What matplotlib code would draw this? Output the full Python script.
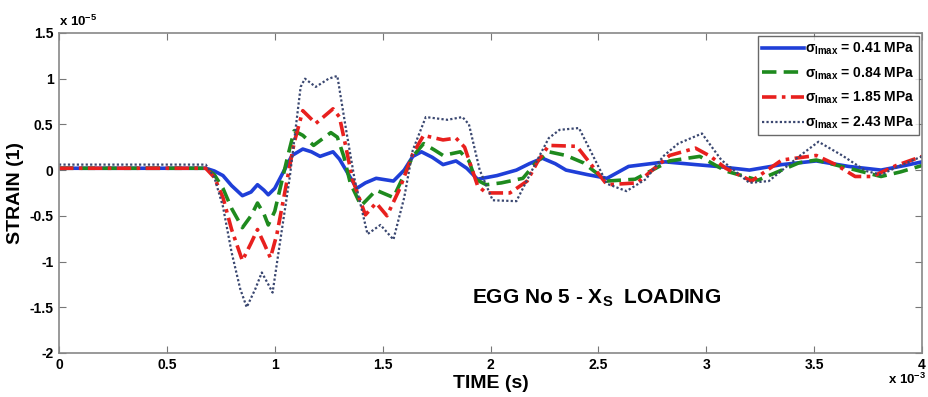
import numpy as np
import matplotlib
matplotlib.use("Agg")
import matplotlib.pyplot as plt
from matplotlib.ticker import FormatStrFormatter

plt.rcParams['font.family'] = ['Liberation Sans', 'DejaVu Sans']
plt.rcParams['font.weight'] = 'bold'
plt.rcParams['mathtext.fontset'] = 'custom'
plt.rcParams['mathtext.rm'] = 'Liberation Sans:bold'
plt.rcParams['mathtext.it'] = 'Liberation Sans:bold'

# time in ms (x 10^-3 s), strain in units of 1e-5
t_041 = [0, 0.3, 0.6, 0.68, 0.72, 0.76, 0.80, 0.85, 0.89, 0.92, 0.95, 0.97, 1.0, 1.04,
         1.08, 1.13, 1.17, 1.21, 1.27, 1.30, 1.33, 1.38, 1.42, 1.47, 1.55, 1.60, 1.64,
         1.68, 1.73, 1.78, 1.84, 1.89, 1.94, 2.03, 2.12, 2.18, 2.24, 2.30, 2.35, 2.45,
         2.54, 2.64, 2.81, 2.95, 3.05, 3.2, 3.35, 3.51, 3.66, 3.81, 3.92, 4.0]
s_041 = [0.02, 0.02, 0.02, 0.02, -0.01, -0.06, -0.17, -0.28, -0.24, -0.16, -0.22,
         -0.27, -0.2, -0.02, 0.16, 0.23, 0.2, 0.15, 0.2, 0.12, 0.0, -0.2, -0.14, -0.09,
         -0.12, 0.0, 0.15, 0.2, 0.14, 0.06, 0.1, 0.02, -0.1, -0.06, 0.0, 0.07, 0.13,
         0.07, 0.0, -0.05, -0.09, 0.04, 0.09, 0.06, 0.04, 0.0, 0.06, 0.1, 0.04, 0.0,
         0.05, 0.09]

t_084 = [0, 0.68, 0.72, 0.76, 0.80, 0.85, 0.89, 0.92, 0.95, 0.97, 1.0, 1.03, 1.06,
         1.09, 1.13, 1.18, 1.26, 1.29, 1.32, 1.35, 1.40, 1.47, 1.55, 1.59, 1.64, 1.69,
         1.74, 1.78, 1.86, 1.90, 1.93, 1.98, 2.05, 2.15, 2.21, 2.27, 2.35, 2.43, 2.54,
         2.67, 2.83, 2.97, 3.09, 3.24, 3.43, 3.51, 3.66, 3.81, 3.9, 4.0]
s_084 = [0.02, 0.02, -0.05, -0.2, -0.42, -0.63, -0.5, -0.36, -0.48, -0.6, -0.45,
         -0.15, 0.15, 0.43, 0.38, 0.27, 0.41, 0.36, 0.15, -0.14, -0.39, -0.22, -0.3,
         -0.1, 0.15, 0.29, 0.22, 0.16, 0.2, 0.1, -0.1, -0.16, -0.14, -0.09, 0.08, 0.2,
         0.16, 0.08, -0.12, -0.1, 0.1, 0.15, -0.01, -0.11, 0.08, 0.11, 0.02, -0.07,
         -0.02, 0.05]

t_185 = [0, 0.68, 0.72, 0.76, 0.80, 0.85, 0.89, 0.92, 0.95, 0.98, 1.01, 1.05, 1.09,
         1.13, 1.19, 1.27, 1.30, 1.33, 1.36, 1.42, 1.47, 1.52, 1.58, 1.64, 1.69, 1.78,
         1.84, 1.88, 1.94, 1.98, 2.09, 2.17, 2.22, 2.27, 2.40, 2.46, 2.54, 2.68, 2.75,
         2.83, 2.95, 3.02, 3.09, 3.21, 3.35, 3.51, 3.60, 3.69, 3.77, 3.88, 4.0]
s_185 = [0.02, 0.02, -0.08, -0.3, -0.65, -0.99, -0.8, -0.65, -0.8, -0.96, -0.7,
         -0.2, 0.3, 0.65, 0.51, 0.67, 0.58, 0.25, -0.1, -0.49, -0.36, -0.5, -0.2, 0.18,
         0.38, 0.33, 0.35, 0.25, -0.17, -0.25, -0.25, -0.12, 0.1, 0.27, 0.26, 0.08,
         -0.16, -0.14, 0.0, 0.16, 0.24, 0.15, 0.02, -0.12, 0.11, 0.16, 0.06, -0.07,
         -0.07, 0.05, 0.15]

t_243 = [0, 0.68, 0.72, 0.76, 0.80, 0.84, 0.87, 0.91, 0.94, 0.97, 0.99, 1.03, 1.07,
         1.12, 1.14, 1.19, 1.25, 1.29, 1.33, 1.37, 1.43, 1.49, 1.55, 1.60, 1.64, 1.70,
         1.80, 1.87, 1.90, 1.95, 2.01, 2.12, 2.21, 2.27, 2.32, 2.41, 2.47, 2.54, 2.63,
         2.72, 2.80, 2.87, 2.98, 3.07, 3.20, 3.29, 3.43, 3.52, 3.63, 3.74, 3.81, 3.9,
         4.0]
s_243 = [0.06, 0.06, -0.08, -0.4, -0.9, -1.3, -1.5, -1.3, -1.12, -1.25, -1.34, -0.7,
         -0.07, 0.91, 1.0, 0.91, 1.0, 1.03, 0.45, -0.1, -0.7, -0.6, -0.76, -0.3, 0.22,
         0.58, 0.55, 0.58, 0.5, 0.0, -0.33, -0.34, 0.08, 0.35, 0.44, 0.46, 0.18, -0.15,
         -0.23, -0.1, 0.15, 0.29, 0.4, 0.11, -0.14, -0.12, 0.15, 0.31, 0.16, -0.01,
         -0.05, 0.05, 0.15]

labels = ['0.41', '0.84', '1.85', '2.43']

fig = plt.figure(figsize=(9.29, 3.97), dpi=100)
ax = fig.add_axes([0.0635, 0.111, 0.929, 0.806])

ax.plot(t_041, s_041, color='#1f3fd8', lw=2.6, ls='-',
        label=r'$\sigma_{\mathrm{lmax}}$ = ' + labels[0] + ' MPa')
ax.plot(t_084, s_084, color='#1e8a1e', lw=2.6, ls=(0, (4, 2)),
        label=r'$\sigma_{\mathrm{lmax}}$ = ' + labels[1] + ' MPa')
ax.plot(t_185, s_185, color='#e8201e', lw=2.6, ls=(0, (4, 1.5, 1, 1.5)),
        label=r'$\sigma_{\mathrm{lmax}}$ = ' + labels[2] + ' MPa')
ax.plot(t_243, s_243, color='#3a4770', lw=1.6, ls=(0, (1, 1)),
        label=r'$\sigma_{\mathrm{lmax}}$ = ' + labels[3] + ' MPa')

ax.set_xlim(0, 4)
ax.set_ylim(-2, 1.5)
ax.set_xticks(np.arange(0, 4.01, 0.5))
ax.set_yticks(np.arange(-2, 1.51, 0.5))
ax.xaxis.set_major_formatter(FormatStrFormatter('%g'))
ax.yaxis.set_major_formatter(FormatStrFormatter('%g'))
ax.tick_params(direction='in', top=True, right=True, length=5, color='#777777',
               labelsize=10, pad=4)
for sp in ax.spines.values():
    sp.set_color('#888888')
    sp.set_linewidth(1.2)

ax.set_xlabel('TIME (s)', fontsize=14, fontweight='bold', labelpad=2)
ax.set_ylabel('STRAIN (1)', fontsize=14, fontweight='bold', labelpad=4)

ax.text(0.0, 1.012, r'x 10$^{-5}$', transform=ax.transAxes, fontsize=9.5,
        ha='left', va='bottom')
fig.text(0.997, 0.025, r'x 10$^{-3}$', fontsize=9.5, ha='right', va='bottom')
ax.text(0.479, 0.17, r'EGG No 5 - X$_{\mathrm{S}}$  LOADING',
        transform=ax.transAxes, fontsize=15, fontweight='bold', ha='left',
        va='center')

leg = ax.legend(loc='upper right', fontsize=10, frameon=True, fancybox=False,
                handlelength=3.0, handletextpad=0.1, borderpad=0.3,
                labelspacing=0.6, borderaxespad=0.25)
leg.get_frame().set_edgecolor('#444444')
leg.get_frame().set_linewidth(1.0)

fig.savefig('out.png', dpi=100)
